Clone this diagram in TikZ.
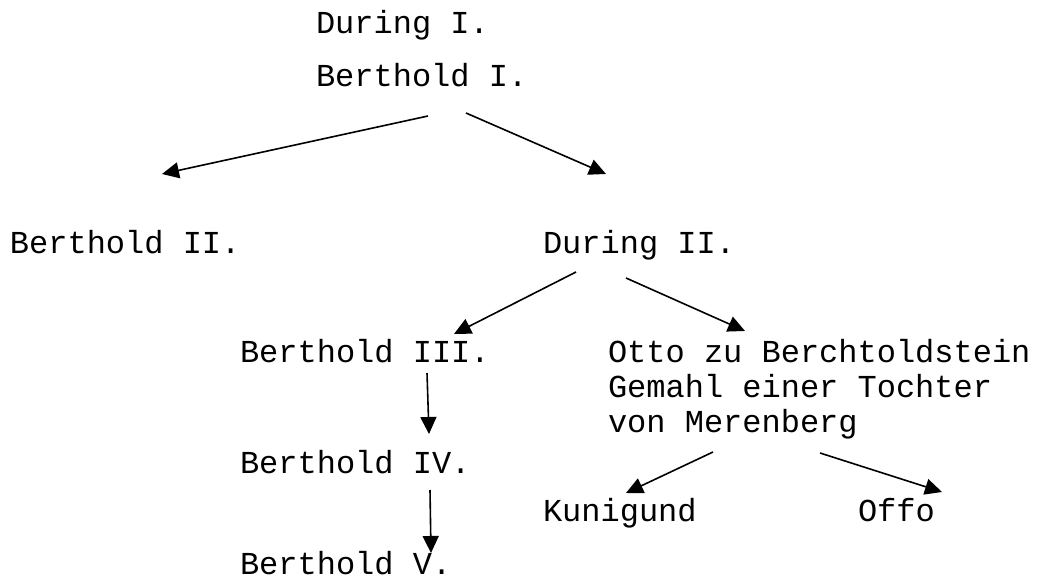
\documentclass[tikz,border=0pt]{standalone}
\usepackage{fontspec}
\setmonofont{Liberation Mono}
\usetikzlibrary{arrows.meta}
\begin{document}
\begin{tikzpicture}[x=0.5pt,y=-0.5pt,
  person/.style={anchor=base west,inner sep=0pt,outer sep=0pt,
    font=\ttfamily\fontsize{16pt}{17.5pt}\selectfont,align=left},
  link/.style={line width=0.8pt,-{Triangle[length=8.5pt,width=8pt]}}]
\useasboundingbox (0,0) rectangle (1049,577);

% names (baseline of the last line at the given point)
\node[person] (d1)  at (316,34)  {During I.};
\node[person] (b1)  at (316,87)  {Berthold I.};
\node[person] (b2)  at (10,254)  {Berthold II.};
\node[person] (d2)  at (543,254) {During II.};
\node[person] (b3)  at (240,362) {Berthold III.};
\node[person] (ot)  at (608,432) {Otto zu Berchtoldstein\\Gemahl einer Tochter\\von Merenberg};
\node[person] (b4)  at (240,473) {Berthold IV.};
\node[person] (ku)  at (543,521) {Kunigund};
\node[person] (of)  at (858,521) {Offo};
\node[person] (b5)  at (240,574) {Berthold V.};

% connector ends
\coordinate (b1l) at (428,116);  \coordinate (b2t) at (162,174);
\coordinate (b1r) at (466,113);  \coordinate (d2t) at (606,174);
\coordinate (d2l) at (576,272);  \coordinate (b3t) at (454,334);
\coordinate (d2r) at (626,278);  \coordinate (ott) at (745,331);
\coordinate (b3b) at (427,373);  \coordinate (b4t) at (429,434);
\coordinate (b4b) at (430,490);  \coordinate (b5t) at (431,553);
\coordinate (otl) at (713,452);  \coordinate (kut) at (626,493);
\coordinate (otr) at (820,453);  \coordinate (oft) at (942,492);

% descent lines
\draw[link] (b1l) -- (b2t);
\draw[link] (b1r) -- (d2t);
\draw[link] (d2l) -- (b3t);
\draw[link] (d2r) -- (ott);
\draw[link] (b3b) -- (b4t);
\draw[link] (b4b) -- (b5t);
\draw[link] (otl) -- (kut);
\draw[link] (otr) -- (oft);
\end{tikzpicture}
\end{document}
